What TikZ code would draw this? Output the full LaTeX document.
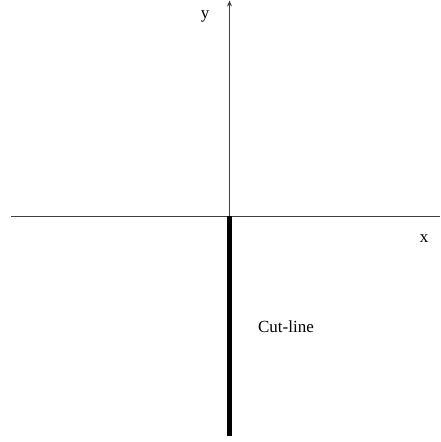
\documentclass[tikz,border=0pt]{standalone}
\usepackage{fontspec}
\setmainfont{Liberation Serif}
\usetikzlibrary{arrows.meta}
\begin{document}
\begin{tikzpicture}[x=1pt,y=-1pt,
  axis/.style={line width=0.9pt, draw=black!75},
  cutline/.style={line width=4.5pt, draw=black},
  lbl/.style={font=\fontsize{17}{20}\selectfont, inner sep=0pt}]
\useasboundingbox (0,0) rectangle (440,442);
\coordinate (O) at (229.5,216);
\coordinate (xl) at (11,216);
\coordinate (xr) at (440,216);
\coordinate (yt) at (229.5,0.5);
\coordinate (cb) at (229.5,436);
\draw[axis] (xl) -- (xr);
\draw[axis, -{Stealth[length=6pt,width=5pt]}] (O) -- (yt);
\draw[cutline] (O) -- (cb);
\node[lbl] (ylab) at (205,16) {y};
\node[lbl] (xlab) at (424,239) {x};
\node[lbl] (cut) at (286,327) {Cut-line};
\end{tikzpicture}
\end{document}
